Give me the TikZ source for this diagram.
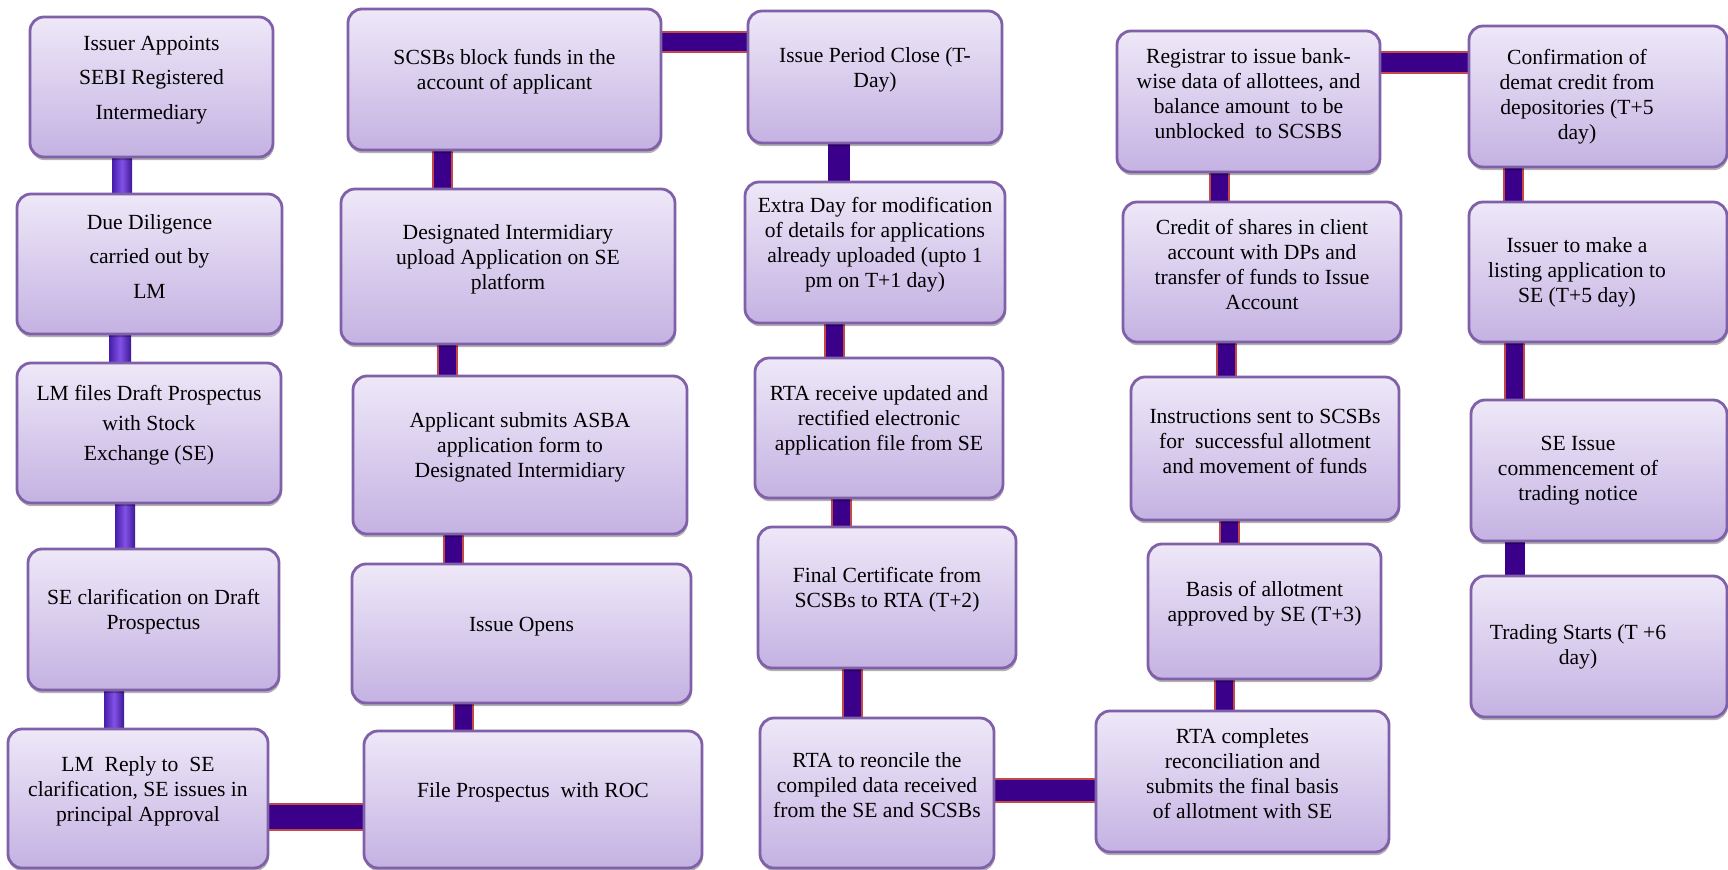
\documentclass[tikz,border=0pt]{standalone}
\usepackage{fontspec}
\setmainfont{Liberation Serif}
\usetikzlibrary{fit,shadows,backgrounds}
\definecolor{boxtop}{RGB}{238,232,248}
\definecolor{boxbot}{RGB}{196,178,226}
\definecolor{boxline}{RGB}{128,96,168}
\definecolor{indigo}{RGB}{58,0,138}
\definecolor{redge}{RGB}{196,72,72}
\definecolor{vioA}{RGB}{70,28,170}
\definecolor{vioB}{RGB}{130,82,230}
\definecolor{vioC}{RGB}{62,24,150}
\tikzset{
  box/.style={draw=boxline, line width=1.4pt, rounded corners=7pt,
    top color=boxtop, bottom color=boxbot, inner sep=0pt, outer sep=0pt,
    align=center, font=\fontsize{10.8}{12.5}\selectfont,
    drop shadow={shadow xshift=0.4pt, shadow yshift=-1.6pt, opacity=0.3, fill=black}},
  etext/.style={inner sep=0pt, align=center, font=\fontsize{10.8}{12.5}\selectfont},
  wide/.style={font=\fontsize{10.8}{17.25}\selectfont},
  mid/.style={font=\fontsize{10.8}{15}\selectfont},
  conn/.style 2 args={draw=indigo, line width=#1, preaction={draw=redge, line width=#2}},
  plainconn/.style={draw=indigo, line width=#1},
  vio/.style={left color=vioA, right color=vioC, middle color=vioB},
}
\begin{document}
\begin{tikzpicture}[x=0.5pt,y=-0.5pt]
\useasboundingbox (0,0) rectangle (1728,870);
% column 1
\node[box,wide,fit={(30,17) (273,157)}] (A1) {Issuer Appoints\\SEBI Registered\\Intermediary};
\node[box,wide,fit={(17,194) (282,334)}] (A2) {Due Diligence\\carried out by\\LM};
\node[box,mid,fit={(17,363) (281,503)}] (A3) {LM files Draft Prospectus\\with Stock\\Exchange (SE)};
\node[box,fit={(28,549) (279,690)}] (A4) {SE clarification on Draft\\Prospectus};
\node[box,fit={(8,729) (268,868)}] (A5) {LM\ \ Reply to\ \ SE\\clarification, SE issues in\\principal Approval};
% column 2
\node[box,fit={(348,9) (661,150)}] (B1) {SCSBs block funds in the\\account of applicant};
\node[box,fit={(341,189) (675,344)}] (B2) {Designated Intermidiary\\upload Application on SE\\platform};
\node[box,fit={(353,376) (687,534)}] (B3) {Applicant submits ASBA\\application form to\\Designated Intermidiary};
\node[box,fit={(352,564) (691,703)}] (B4) {Issue Opens};
\node[box,fit={(364,731) (702,868)}] (B5) {File Prospectus\ \ with ROC};
% column 3
\node[box,fit={(748,11) (1002,143)}] (C1) {Issue Period Close (T-\\Day)};
\node[box,fit={(745,182) (1005,323)}] (C2) {Extra Day for modification\\of details for applications\\already uploaded (upto 1\\pm on T+1 day)};
\node[box,fit={(755,358) (1003,498)}] (C3) {RTA receive updated and\\rectified electronic\\application file from SE};
\node[box,fit={(758,527) (1016,668)}] (C4) {Final Certificate from\\SCSBs to RTA (T+2)};
\node[box,fit={(760,718) (994,868)}] (C5) {RTA to reoncile the\\compiled data received\\from the SE and SCSBs};
% column 4
\node[box,fit={(1117,31) (1380,172)}] (D1) {Registrar to issue bank-\\wise data of allottees, and\\balance amount\ \ to be\\unblocked\ \ to SCSBS};
\node[box,fit={(1123,202) (1401,342)}] (D2) {Credit of shares in client\\account with DPs and\\transfer of funds to Issue\\Account};
\node[box,fit={(1131,377) (1399,520)}] (D3) {Instructions sent to SCSBs\\for\ \ successful allotment\\and movement of funds};
\node[box,fit={(1148,544) (1381,679)}] (D4) {Basis of allotment\\approved by SE (T+3)};
\node[box,fit={(1096,711) (1389,852)}] (D5) {RTA completes\\reconciliation and\\submits the final basis\\of allotment with SE};
% column 5 (boxes run off the right edge; text sits left of centre)
\node[box,fit={(1469,26) (1727,167)}] (E1) {};
\node[box,fit={(1469,202) (1727,342)}] (E2) {};
\node[box,fit={(1471,400) (1727,541)}] (E3) {};
\node[box,fit={(1471,576) (1727,717)}] (E4) {};
\node[etext] (E1t) at ([xshift=-10.5pt]E1.center) {Confirmation of\\demat credit from\\depositories (T+5\\day)};
\node[etext] (E2t) at ([xshift=-10.5pt]E2.center) {Issuer to make a\\listing application to\\SE (T+5 day)};
\node[etext] (E3t) at ([xshift=-10.5pt]E3.center) {SE Issue\\commencement of\\trading notice};
\node[etext] (E4t) at ([xshift=-10.5pt]E4.center) {Trading Starts (T +6\\day)};

\begin{scope}[on background layer]
% column 1 (violet bars)
\shade[vio] (112,0 |- A1.south) rectangle (132,0 |- A2.north);
\shade[vio] (109,0 |- A2.south) rectangle (131,0 |- A3.north);
\shade[vio] (115,0 |- A3.south) rectangle (135,0 |- A4.north);
\shade[vio] (104,0 |- A4.south) rectangle (124,0 |- A5.north);
% column 2
\draw[conn={8.5pt}{10.5pt}] (442.5,0 |- B1.south) -- (442.5,0 |- B2.north);
\draw[conn={8.5pt}{10.5pt}] (447.5,0 |- B2.south) -- (447.5,0 |- B3.north);
\draw[conn={8.5pt}{10.5pt}] (453,0 |- B3.south) -- (453,0 |- B4.north);
\draw[conn={8.5pt}{10.5pt}] (463,0 |- B4.south) -- (463,0 |- B5.north);
% column 3
\draw[plainconn=11pt] (838.5,0 |- C1.south) -- (838.5,0 |- C2.north);
\draw[conn={8.5pt}{10.5pt}] (834,0 |- C2.south) -- (834,0 |- C3.north);
\draw[conn={8.5pt}{10.5pt}] (841.5,0 |- C3.south) -- (841.5,0 |- C4.north);
\draw[conn={8.5pt}{10.5pt}] (852.5,0 |- C4.south) -- (852.5,0 |- C5.north);
% column 4
\draw[conn={8.5pt}{10.5pt}] (1219.5,0 |- D1.south) -- (1219.5,0 |- D2.north);
\draw[conn={8.5pt}{10.5pt}] (1226.5,0 |- D2.south) -- (1226.5,0 |- D3.north);
\draw[conn={8.5pt}{10.5pt}] (1229.5,0 |- D3.south) -- (1229.5,0 |- D4.north);
\draw[conn={8.5pt}{10.5pt}] (1224.5,0 |- D4.south) -- (1224.5,0 |- D5.north);
% column 5
\draw[conn={8.5pt}{10.5pt}] (1513.5,0 |- E1.south) -- (1513.5,0 |- E2.north);
\draw[conn={8.5pt}{10.5pt}] (1514.5,0 |- E2.south) -- (1514.5,0 |- E3.north);
\draw[plainconn=10pt] (1515,0 |- E3.south) -- (1515,0 |- E4.north);
% horizontal links
\draw[conn={12pt}{14pt}] (A5.east |- 0,817) -- (B5.west |- 0,817);
\draw[conn={9pt}{11pt}] (B1.east |- 0,42.5) -- (C1.west |- 0,42.5);
\draw[conn={10.5pt}{12.5pt}] (C5.east |- 0,790.5) -- (D5.west |- 0,790.5);
\draw[conn={9.5pt}{11.5pt}] (D1.east |- 0,63) -- (E1.west |- 0,63);
\end{scope}
\end{tikzpicture}
\end{document}
